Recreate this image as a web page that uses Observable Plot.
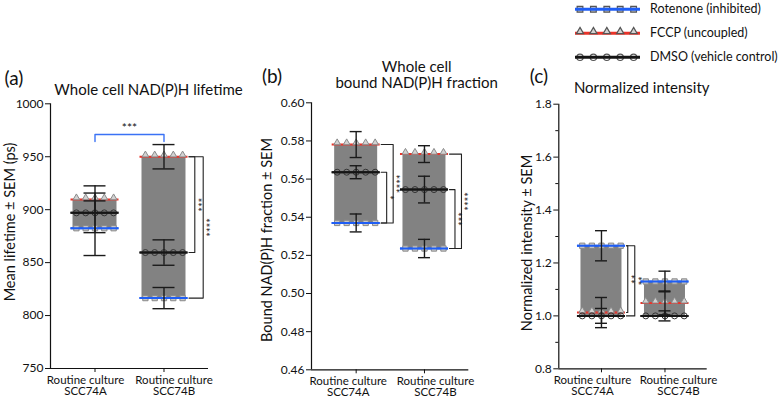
<!DOCTYPE html>
<html><head><meta charset="utf-8">
<script src="https://cdn.jsdelivr.net/npm/d3@7"></script>
<script src="https://cdn.jsdelivr.net/npm/@observablehq/plot@0.6"></script>
<style>
body{margin:0;background:#fff;}
#wrap{position:relative;width:782px;height:402px;overflow:hidden;font-family:Lato,"Open Sans",sans-serif;color:#111;}
.panel{position:absolute;top:0;}
.t{position:absolute;white-space:nowrap;transform:translate(-50%,-50%);line-height:1;}
.yl{position:absolute;white-space:nowrap;transform:translate(-50%,-50%) rotate(-90deg);line-height:1;}
.lg{position:absolute;white-space:nowrap;transform:translate(0,-50%);line-height:1;}
</style></head><body><div id="wrap"></div>
<script>
// ---------- data ----------
const categories = ["SCC74A", "SCC74B"];
const categoryLabels = ["Routine culture\nSCC74A", "Routine culture\nSCC74B"];
const seriesNames = ["Rotenone (inhibited)", "FCCP (uncoupled)", "DMSO (vehicle control)"];

// (a) Whole cell NAD(P)H lifetime (ps)
const lifetimeRotenone = [882.5, 816.5];
const lifetimeRotenoneSem = [25.8, 10.0];
const lifetimeFCCP = [909.5, 950.0];
const lifetimeFCCPSem = [13.0, 11.5];
const lifetimeDMSO = [897.0, 859.5];
const lifetimeDMSOSem = [18.7, 12.0];
const lifetimeTicks = [750, 800, 850, 900, 950, 1000];

// (b) Whole cell bound NAD(P)H fraction
const boundRotenone = [0.5370, 0.5236];
const boundRotenoneSem = [0.0047, 0.0048];
const boundFCCP = [0.5781, 0.5731];
const boundFCCPSem = [0.0068, 0.0044];
const boundDMSO = [0.5636, 0.5545];
const boundDMSOSem = [0.0034, 0.0070];
const boundTicks = [0.46, 0.48, 0.50, 0.52, 0.54, 0.56, 0.58, 0.60];

// (c) Normalized intensity
const intensityRotenone = [1.265, 1.130];
const intensityRotenoneSem = [0.057, 0.039];
const intensityFCCP = [1.0125, 1.049];
const intensityFCCPSem = [0.057, 0.045];
const intensityDMSO = [1.000, 1.000];
const intensityDMSOSem = [0.028, 0.019];
const intensityTicks = [0.8, 1.0, 1.2, 1.4, 1.6, 1.8];
const intensityMinorTicks = [0.9, 1.1, 1.3, 1.5, 1.7];

// significance brackets (within a cell line)
const lifetimeSig = [
  {cat: 1, from: "FCCP", to: "DMSO", label: "***", level: 0},
  {cat: 1, from: "FCCP", to: "Rotenone", label: "****", level: 1}
];
const lifetimeAcross = [{series: "Rotenone", from: 0, to: 1, label: "***"}];
const boundSig = [
  {cat: 0, from: "DMSO", to: "Rotenone", label: "*", level: 0},
  {cat: 0, from: "FCCP", to: "Rotenone", label: "****", level: 1},
  {cat: 1, from: "DMSO", to: "Rotenone", label: "***", level: 0},
  {cat: 1, from: "FCCP", to: "Rotenone", label: "****", level: 1}
];
const intensitySig = [
  {cat: 0, from: "Rotenone", to: "FCCP", label: "**", level: 0},
  {cat: 0, from: "Rotenone", to: "DMSO", label: "**", level: 1}
];

// ---------- styles ----------
const style = {
  Rotenone: {color: "#1f5ef5", symbol: "square", fill: "#c8c8c8", stroke: "#8a8a8a", r: 3.0, dy: 0},
  FCCP: {color: "#ea3329", symbol: "triangle", fill: "#d2d2d2", stroke: "#8a8a8a", r: 2.5, dy: -1.8},
  DMSO: {color: "#151515", symbol: "circle", fill: "none", stroke: "#333", r: 3.0, dy: 0}
};
const FONT = "Lato, 'Open Sans', sans-serif";
const wrap = document.getElementById("wrap");

function addDiv(cls, text, x, y, size, extra) {
  const d = document.createElement("div");
  d.className = cls; d.textContent = text;
  d.style.left = x + "px"; d.style.top = y + "px"; d.style.fontSize = size + "px";
  if (extra) Object.assign(d.style, extra);
  wrap.appendChild(d);
}

function buildPanel(cfg) {
  const {left, width, height, mL, mR, mT, mB, xDomain, yDomain, ticks, fmt, minor,
    vals, sig, across, capPx, barPx, linePx, markerPx, brStart, brGap, labelShift} = cfg;
  const step = (width - mL - mR) / (xDomain[1] - xDomain[0]);
  const u = px => px / step;
  const pyUnit = (height - mT - mB) / (yDomain[1] - yDomain[0]);
  const uy = px => px / pyUnit;
  const rows = [];
  ["Rotenone", "FCCP", "DMSO"].forEach(s => {
    categories.forEach((c, i) => rows.push({s, i, v: vals[s][i], sem: vals[s + "Sem"][i]}));
  });
  const bars = categories.map((c, i) => {
    const vs = rows.filter(r => r.i === i).map(r => r.v);
    return {i, lo: d3.min(vs), hi: d3.max(vs)};
  });
  const offsets = [-2, -1, 0, 1, 2];
  const marks = [];
  marks.push(Plot.rect(bars, {x1: d => d.i - u(barPx), x2: d => d.i + u(barPx), y1: "lo", y2: "hi", fill: "#828282"}));
  ["Rotenone", "FCCP", "DMSO"].forEach(s => {
    const st = style[s];
    const sr = rows.filter(r => r.s === s);
    const pts = sr.flatMap(r => offsets.map(k => ({x: r.i + u(k * markerPx), v: r.v})));
    marks.push(Plot.ruleY(sr, {y: "v", x1: d => d.i - u(linePx), x2: d => d.i + u(linePx), stroke: st.color, strokeWidth: 2}));
    marks.push(Plot.dot(pts, {x: "x", y: "v", symbol: st.symbol, r: st.r, fill: st.fill, stroke: st.stroke, strokeWidth: 1, dy: st.dy}));
    if (s !== "FCCP") marks.push(Plot.ruleY(sr, {y: "v", x1: d => d.i - u(linePx), x2: d => d.i + u(linePx), stroke: st.color, strokeWidth: 2}));
  });
  // error bars
  marks.push(Plot.ruleX(rows, {x: "i", y1: d => d.v - d.sem, y2: d => d.v + d.sem, stroke: "#1a1a1a", strokeWidth: 1.4}));
  const caps = rows.flatMap(r => [{i: r.i, y: r.v - r.sem}, {i: r.i, y: r.v + r.sem}]);
  marks.push(Plot.ruleY(caps, {y: "y", x1: d => d.i - u(capPx), x2: d => d.i + u(capPx), stroke: "#1a1a1a", strokeWidth: 1.4}));
  // brackets
  const get = (s, i) => rows.find(r => r.s === s && r.i === i).v;
  const brLines = [], brLabels = [];
  sig.forEach((b, k) => {
    const y1 = get(b.from, b.cat), y2 = get(b.to, b.cat);
    const xv = b.cat + u(brStart + b.level * brGap);
    const x0 = b.cat + u(linePx + 1);
    brLines.push([{x: x0, y: y1, k}, {x: xv, y: y1, k}, {x: xv, y: y2, k}, {x: x0, y: y2, k}]);
    brLabels.push({x: xv, y: (y1 + y2) / 2, label: b.label});
  });
  marks.push(Plot.line(brLines.flat(), {x: "x", y: "y", z: "k", stroke: "#222", strokeWidth: 1.1}));
  marks.push(Plot.text(brLabels, {x: "x", y: "y", text: "label", rotate: 90, dx: 1.5, fontSize: 11, fill: "#111"}));
  if (across) {
    const topY = d3.max(rows, r => r.v + r.sem);
    across.forEach((a, k) => {
      const yb = topY + uy(10);
      const pts = [{x: a.from, y: yb - uy(7)}, {x: a.from, y: yb}, {x: a.to, y: yb}, {x: a.to, y: yb - uy(7)}];
      marks.push(Plot.line(pts, {x: "x", y: "y", stroke: "#3a72f5", strokeWidth: 1.4}));
      marks.push(Plot.text([{x: (a.from + a.to) / 2, y: yb, label: a.label}], {x: "x", y: "y", text: "label", dy: -6, fontSize: 12, fill: "#111"}));
    });
  }
  // axes
  marks.push(Plot.ruleX([xDomain[0]], {stroke: "#111", strokeWidth: 1.2}));
  marks.push(Plot.ruleY([yDomain[0]], {stroke: "#111", strokeWidth: 1.2}));
  marks.push(Plot.axisY(ticks, {tickSize: 5, tickPadding: 2, tickFormat: fmt, fontSize: 12, label: null, stroke: "#111", fill: "#111"}));
  if (minor) marks.push(Plot.axisY(minor, {tickSize: 3, tickFormat: () => "", label: null, stroke: "#111"}));
  marks.push(Plot.axisX([0, 1], {tickSize: 4, tickFormat: () => "", label: null, stroke: "#111"}));
  [0, 1].forEach(i => {
    marks.push(Plot.axisX([i], {tickSize: 0, tickPadding: 7, dx: labelShift[i], tickFormat: j => categoryLabels[j], fontSize: 11.5, lineHeight: 1.0, label: null, fill: "#111"}));
  });
  const svg = Plot.plot({
    width, height, marginLeft: mL, marginRight: mR, marginTop: mT, marginBottom: mB,
    x: {type: "linear", domain: xDomain, axis: null},
    y: {type: "linear", domain: yDomain, axis: null},
    style: {fontFamily: FONT, overflow: "visible", background: "transparent"},
    marks
  });
  const holder = document.createElement("div");
  holder.className = "panel";
  holder.style.left = left + "px";
  holder.appendChild(svg);
  wrap.appendChild(holder);
}

buildPanel({
  left: 0, width: 250, height: 402, mL: 50, mR: 42, mT: 103.3, mB: 34,
  xDomain: [-0.645, 1.645], yDomain: [750, 1000], ticks: lifetimeTicks, fmt: d3.format("d"),
  vals: {Rotenone: lifetimeRotenone, RotenoneSem: lifetimeRotenoneSem, FCCP: lifetimeFCCP, FCCPSem: lifetimeFCCPSem, DMSO: lifetimeDMSO, DMSOSem: lifetimeDMSOSem},
  sig: lifetimeSig, across: lifetimeAcross, capPx: 11, barPx: 22, linePx: 24, markerPx: 9.3, brStart: 30.8, brGap: 8.4,
  labelShift: [-9.5, 10]
});
buildPanel({
  left: 260, width: 250, height: 402, mL: 51, mR: 41.7, mT: 102.3, mB: 32.7,
  xDomain: [-0.654, 1.649], yDomain: [0.46, 0.60], ticks: boundTicks, fmt: d3.format(".2f"),
  vals: {Rotenone: boundRotenone, RotenoneSem: boundRotenoneSem, FCCP: boundFCCP, FCCPSem: boundFCCPSem, DMSO: boundDMSO, DMSOSem: boundDMSOSem},
  sig: boundSig, capPx: 6, barPx: 21.5, linePx: 24, markerPx: 9.5, brStart: 30.5, brGap: 6.5,
  labelShift: [-8, 11]
});
buildPanel({
  left: 505, width: 277, height: 402, mL: 53.3, mR: 75.3, mT: 103.7, mB: 33.7,
  xDomain: [-0.672, 1.665], yDomain: [0.8, 1.8], ticks: intensityTicks, fmt: d3.format(".1f"), minor: intensityMinorTicks,
  vals: {Rotenone: intensityRotenone, RotenoneSem: intensityRotenoneSem, FCCP: intensityFCCP, FCCPSem: intensityFCCPSem, DMSO: intensityDMSO, DMSOSem: intensityDMSOSem},
  sig: intensitySig, capPx: 6, barPx: 20.5, linePx: 24, markerPx: 9.6, brStart: 26.3, brGap: 7,
  labelShift: [-9, 13.5]
});

// titles and labels
addDiv("t", "(a)", 14, 77, 19);
addDiv("t", "Whole cell NAD(P)H lifetime", 148.5, 88.5, 15);
addDiv("t", "(b)", 272, 75, 19);
addDiv("t", "Whole cell", 416.7, 65.5, 15);
addDiv("t", "bound NAD(P)H fraction", 416.7, 82, 15);
addDiv("t", "(c)", 539, 75, 19);
addDiv("t", "Normalized intensity", 641.7, 86.5, 15);
addDiv("yl", "Mean lifetime ± SEM (ps)", 9.5, 222, 14.5);
addDiv("yl", "Bound NAD(P)H fraction ± SEM", 267, 240, 14.5);
addDiv("yl", "Normalized intensity ± SEM", 527, 243, 14.5);

// legend
const legendKeys = ["Rotenone", "FCCP", "DMSO"];
const ns = "http://www.w3.org/2000/svg";
const lsvg = document.createElementNS(ns, "svg");
lsvg.setAttribute("width", 80); lsvg.setAttribute("height", 70);
lsvg.style.position = "absolute"; lsvg.style.left = "568px"; lsvg.style.top = "0px";
legendKeys.forEach((k, j) => {
  const st = style[k];
  const cy = 9.3 + j * 24;
  const l = document.createElementNS(ns, "line");
  l.setAttribute("x1", 7); l.setAttribute("x2", 72); l.setAttribute("y1", cy); l.setAttribute("y2", cy);
  l.setAttribute("stroke", st.color); l.setAttribute("stroke-width", 3);
  const sym = d3.symbol(d3["symbol" + st.symbol[0].toUpperCase() + st.symbol.slice(1)], Math.PI * st.r * st.r * 1.15)();
  if (k === "FCCP") lsvg.appendChild(l);
  for (let m = 0; m < 5; m++) {
    const p = document.createElementNS(ns, "path");
    p.setAttribute("d", sym);
    p.setAttribute("transform", `translate(${12 + m * 13.4},${cy + st.dy})`);
    p.setAttribute("fill", k === "DMSO" ? "#fff" : st.fill);
    p.setAttribute("stroke", "#555");
    p.setAttribute("stroke-width", 1.2);
    lsvg.appendChild(p);
  }
  if (k !== "FCCP") lsvg.appendChild(l);
  addDiv("lg", seriesNames[j], 650, cy, 12.5);
});
wrap.appendChild(lsvg);
</script></body></html>
